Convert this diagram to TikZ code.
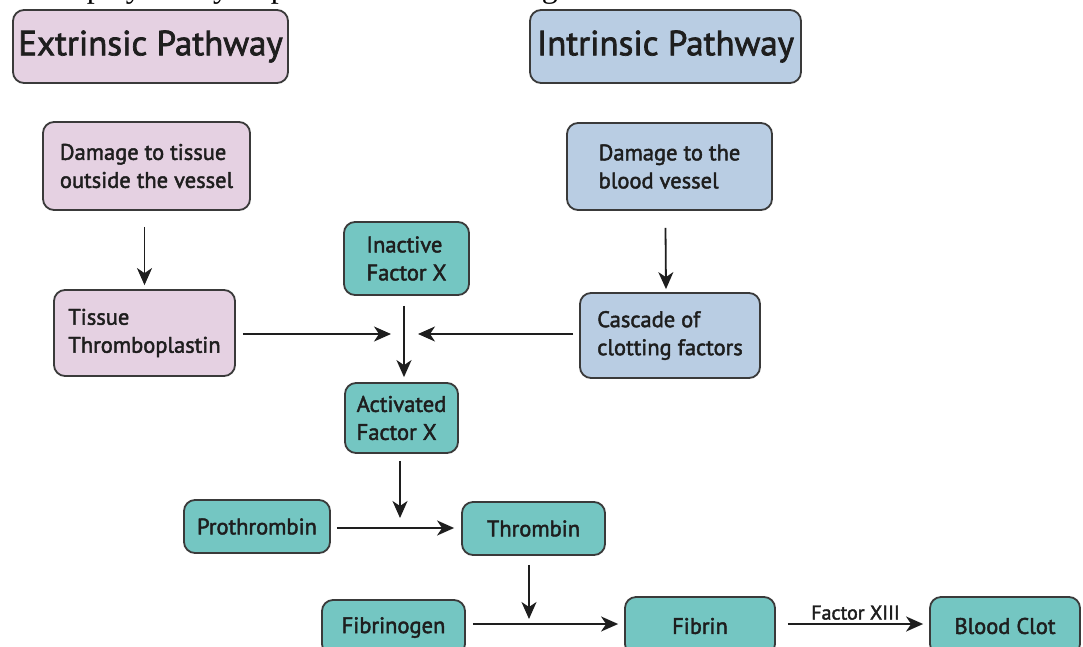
\documentclass[tikz,border=0pt]{standalone}
\usepackage{fontspec}
\setmainfont{PT Sans}
\newfontfamily\boxfont{PT Sans}[FakeBold=2]
\newfontfamily\seriffont{Liberation Serif}
\usetikzlibrary{arrows.meta,calc}
\definecolor{pinkfill}{HTML}{E5D1E2}
\definecolor{bluefill}{HTML}{B9CDE3}
\definecolor{tealfill}{HTML}{74C6C2}
\definecolor{edgecol}{HTML}{3A3A3A}
\definecolor{txtcol}{HTML}{1E1E1E}
\tikzset{
  box/.style={draw=edgecol, line width=1.8pt, rounded corners=11pt, inner sep=0pt,
    align=left, text=txtcol, font=\boxfont\fontsize{22.5}{28}\selectfont, anchor=center},
  pinkbox/.style={box, fill=pinkfill},
  bluebox/.style={box, fill=bluefill},
  tealbox/.style={box, fill=tealfill},
  titlebox/.style={font=\boxfont\fontsize{35}{40}\selectfont},
  arr/.style={draw=txtcol, line width=1.8pt, -{Stealth[length=17pt,width=15pt,inset=5pt]}},
}
\newcommand{\bx}[7]{% name, style, x1, y1, x2, y2, text
  \node[#2, minimum width={#5-#3}, minimum height={#6-#4}] (#1) at ({(#3+#5)/2},{(#4+#6)/2}) {#7};}
\begin{document}
\begin{tikzpicture}[x=1pt,y=-1pt]
\useasboundingbox (0,0) rectangle (1083,646);
\fill[white] (0,0) rectangle (1083,646);
\node[font=\seriffont\fontsize{32}{34}\selectfont, anchor=base east, text=black, inner sep=0pt] (top) at (566,-3) {These play a very important role in clotting.};
\bx{ext}{pinkbox,titlebox}{13}{10}{288}{83}{Extrinsic Pathway}
\bx{int}{bluebox,titlebox}{530}{10}{801}{83}{Intrinsic Pathway}
\bx{dt}{pinkbox}{43}{122}{250}{210}{Damage to tissue\\outside the vessel}
\bx{tt}{pinkbox}{54}{290}{235}{376}{Tissue\\Thromboplastin}
\bx{ifx}{tealbox}{344}{222}{469}{295}{Inactive\\Factor X}
\bx{db}{bluebox}{567}{123}{772}{210}{Damage to the\\blood vessel}
\bx{cc}{bluebox}{580}{293}{760}{378}{Cascade of\\clotting factors}
\bx{afx}{tealbox}{345}{383}{458}{453}{Activated\\Factor X}
\bx{pro}{tealbox}{184}{500}{330}{553}{Prothrombin}
\bx{thr}{tealbox}{462}{502}{605}{555}{Thrombin}
\bx{fbg}{tealbox}{322}{600}{465}{655}{Fibrinogen}
\bx{fbn}{tealbox}{625}{597}{775}{655}{Fibrin}
\bx{bc}{tealbox}{930}{597}{1080}{655}{Blood Clot}
\coordinate (j) at (404,334);
\coordinate (k) at (400,528);
\coordinate (m) at (529,624);
% arrows
\draw[arr] ($(dt.south)+(-2,16)$) -- ($(tt.north)+(0,-4)$);
\draw[arr] ($(db.south)+(-4,17)$) -- ($(cc.north)+(-4,-3)$);
\draw[arr] ($(ifx.south -| j)+(0,10)$) -- ($(afx.north -| j)+(0,-5)$);
\draw[arr] ($(tt.east |- j)+(7,0)$) -- ($(j)+(-13,0)$);
\draw[arr] ($(cc.west |- j)+(-6,0)$) -- ($(j)+(14,0)$);
\draw[arr] ($(afx.south -| k)+(0,7)$) -- ($(k)+(0,-10)$);
\draw[arr] ($(pro.east |- k)+(6,0)$) -- ($(thr.west |- k)+(-7,0)$);
\draw[arr] ($(thr.south -| m)+(0,9)$) -- ($(m)+(0,-5)$);
\draw[arr] ($(fbg.east |- m)+(7,0)$) -- ($(fbn.west |- m)+(-6,0)$);
\draw[arr] ($(fbn.east |- m)+(12,0)$) -- node[above=0pt, font=\boxfont\fontsize{20}{22}\selectfont, text=txtcol] (f13) {Factor XIII} ($(bc.west |- m)+(-6,0)$);
\end{tikzpicture}
\end{document}
